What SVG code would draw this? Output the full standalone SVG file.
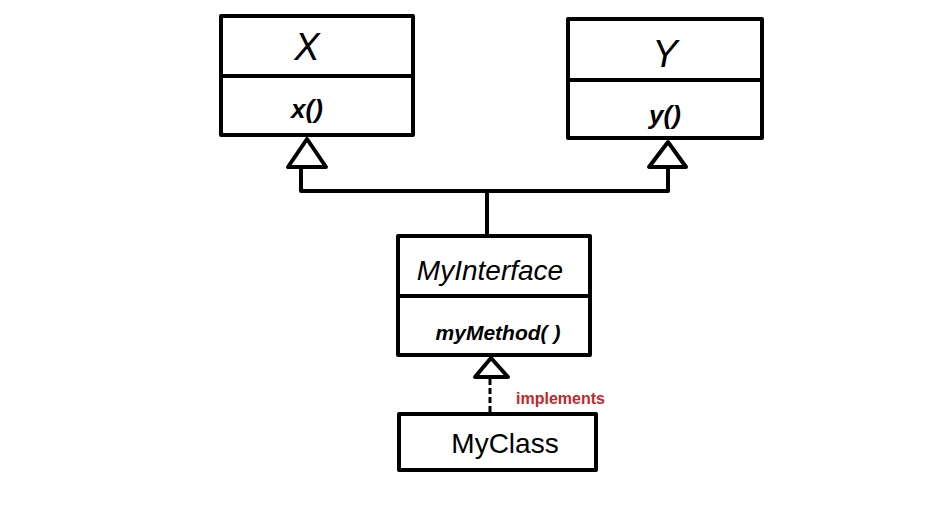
<svg xmlns="http://www.w3.org/2000/svg" width="948" height="505" viewBox="0 0 948 505">
<style>
.box{fill:#fff;stroke:#000;stroke-width:4;stroke-linejoin:round}
.ln{fill:none;stroke:#000;stroke-width:4;stroke-linecap:round;stroke-linejoin:round}
.tri{fill:#fff;stroke:#000;stroke-width:4;stroke-linejoin:round}
.t{font-family:"Liberation Sans","DejaVu Sans",sans-serif;fill:#000;text-anchor:middle}
.it{font-style:italic}
.lbl{font-family:"Liberation Sans","DejaVu Sans",sans-serif;fill:#c0282b;font-size:16px;font-weight:bold}
</style>
<rect width="948" height="505" fill="#fff"/>
<g id="connectors">
<polyline class="ln" points="301,168 301,191 668,191 668,167"/>
<line class="ln" x1="487" y1="191" x2="487" y2="236"/>
<polygon class="tri" points="307,139 288,167 326,167"/>
<polygon class="tri" points="668,142 649,167 686,167"/>
<line x1="490" y1="379" x2="490" y2="414" stroke="#000" stroke-width="3" stroke-dasharray="6,3"/>
<polygon class="tri" points="491,358 475,377 508,377"/>
<text class="lbl" x="516" y="404">implements</text>
</g>
<g id="X">
<rect class="box" x="221" y="16" width="192" height="119"/>
<line class="ln" x1="221" y1="76" x2="413" y2="76"/>
<text class="t it" x="307" y="60" font-size="38">X</text>
<text class="t it" x="307" y="118" font-size="26" font-weight="bold">x()</text>
</g>
<g id="Y">
<rect class="box" x="568" y="19" width="194" height="119"/>
<line class="ln" x1="568" y1="80" x2="762" y2="80"/>
<text class="t it" x="665" y="67" font-size="38">Y</text>
<text class="t it" x="665" y="124" font-size="26" font-weight="bold">y()</text>
</g>
<g id="MyInterface">
<rect class="box" x="398" y="236" width="192" height="119"/>
<line class="ln" x1="398" y1="296" x2="590" y2="296"/>
<text class="t it" x="490" y="280" font-size="28">MyInterface</text>
<text class="t it" x="498" y="340" font-size="21" font-weight="bold">myMethod( )</text>
</g>
<g id="MyClass">
<rect class="box" x="399" y="414" width="197" height="56"/>
<text class="t" x="505" y="453" font-size="28">MyClass</text>
</g>
</svg>
